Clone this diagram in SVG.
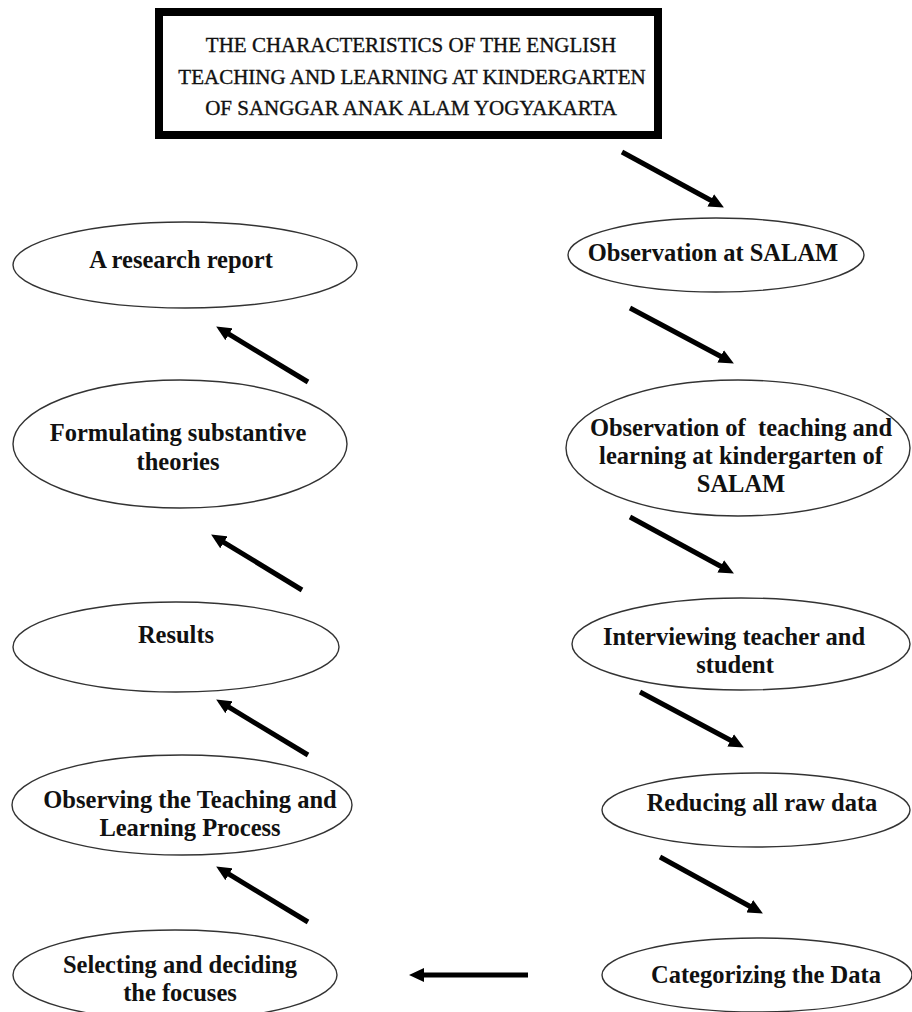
<svg xmlns="http://www.w3.org/2000/svg" width="912" height="1012" viewBox="0 0 912 1012">
<style>
.node ellipse{fill:#fff;stroke:#333;stroke-width:1.4}
.lbl{font-family:"Liberation Serif","Times New Roman",serif;font-weight:bold;font-size:24.5px;fill:#111;text-anchor:middle}
.ttl{font-family:"Liberation Serif","Times New Roman",serif;font-size:21px;fill:#111;stroke:#111;stroke-width:0.35;text-anchor:middle}
.arr{stroke:#000;stroke-width:5;fill:none;marker-end:url(#ah)}
</style>
<defs>
<marker id="ah" markerUnits="userSpaceOnUse" markerWidth="16" markerHeight="14" refX="2" refY="7" orient="auto">
<path d="M0,0 L15,7 L0,14 z" fill="#000"/>
</marker>
</defs>
<rect width="912" height="1012" fill="#fff"/>
<g id="title">
<rect x="159" y="12" width="499" height="123" fill="#fff" stroke="#000" stroke-width="8"/>
<text class="ttl" x="411" y="52">THE CHARACTERISTICS OF THE ENGLISH</text>
<text class="ttl" x="412" y="84">TEACHING AND LEARNING AT KINDERGARTEN</text>
<text class="ttl" x="411" y="115">OF SANGGAR ANAK ALAM YOGYAKARTA</text>
</g>
<g id="obs-salam" class="node">
<ellipse cx="716" cy="255" rx="148" ry="37"/>
<text class="lbl" x="713" y="261">Observation at SALAM</text>
</g>
<g id="obs-teaching" class="node">
<ellipse cx="738" cy="448" rx="172" ry="68"/>
<text class="lbl" x="741" y="436" xml:space="preserve">Observation of  teaching and</text>
<text class="lbl" x="741" y="464">learning at kindergarten of</text>
<text class="lbl" x="741" y="492">SALAM</text>
</g>
<g id="interview" class="node">
<ellipse cx="741" cy="644" rx="169" ry="46"/>
<text class="lbl" x="734" y="645">Interviewing teacher and</text>
<text class="lbl" x="735" y="673">student</text>
</g>
<g id="reducing" class="node">
<ellipse cx="756" cy="810" rx="154" ry="37"/>
<text class="lbl" x="762" y="811">Reducing all raw data</text>
</g>
<g id="categorizing" class="node">
<ellipse cx="757" cy="975" rx="155" ry="37"/>
<text class="lbl" x="766" y="983">Categorizing the Data</text>
</g>
<g id="report" class="node">
<ellipse cx="185" cy="265" rx="172" ry="43"/>
<text class="lbl" x="181" y="268">A research report</text>
</g>
<g id="formulating" class="node">
<ellipse cx="180" cy="444" rx="167" ry="64"/>
<text class="lbl" x="178" y="441">Formulating substantive</text>
<text class="lbl" x="178" y="470">theories</text>
</g>
<g id="results" class="node">
<ellipse cx="176" cy="647" rx="163" ry="45"/>
<text class="lbl" x="176" y="643">Results</text>
</g>
<g id="observing" class="node">
<ellipse cx="182" cy="805" rx="170" ry="50"/>
<text class="lbl" x="190" y="808">Observing the Teaching and</text>
<text class="lbl" x="190" y="836">Learning Process</text>
</g>
<g id="selecting" class="node">
<ellipse cx="175" cy="975" rx="162" ry="45"/>
<text class="lbl" x="180" y="973">Selecting and deciding</text>
<text class="lbl" x="180" y="1001">the focuses</text>
</g>
<g id="connectors">
<line class="arr" x1="622" y1="152" x2="712.5" y2="201.3"/>
<line class="arr" x1="630" y1="308" x2="722.4" y2="357.3"/>
<line class="arr" x1="630" y1="517" x2="722.5" y2="567.3"/>
<line class="arr" x1="640" y1="692" x2="732.4" y2="741.3"/>
<line class="arr" x1="660" y1="857" x2="751.5" y2="907.2"/>
<line class="arr" x1="528" y1="975" x2="422" y2="975"/>
<line class="arr" x1="308" y1="922" x2="227.3" y2="873.2"/>
<line class="arr" x1="308" y1="755" x2="227.3" y2="706.2"/>
<line class="arr" x1="302" y1="590" x2="222.2" y2="541.3"/>
<line class="arr" x1="308" y1="382" x2="227.3" y2="333.2"/>
</g>
</svg>
